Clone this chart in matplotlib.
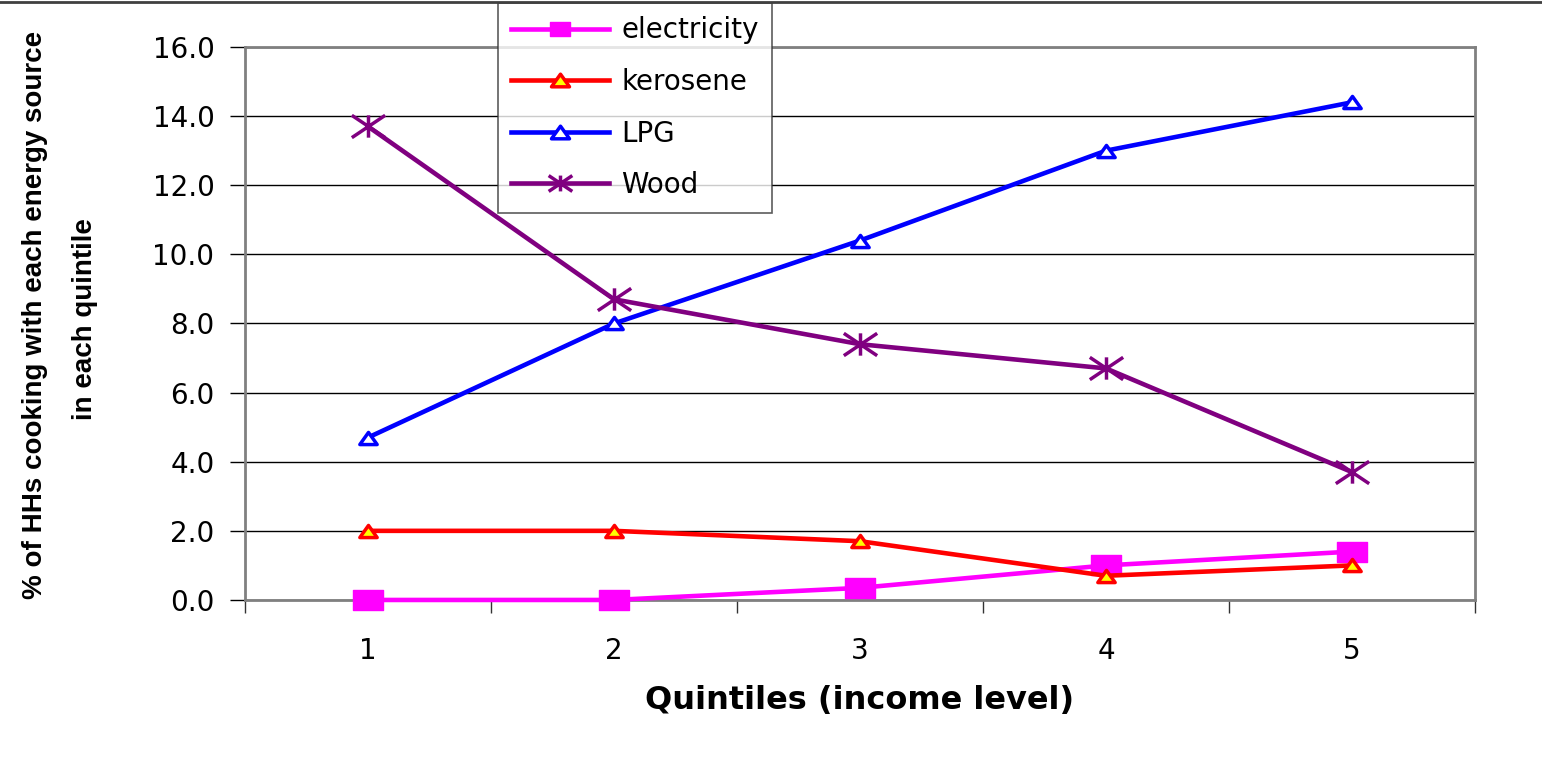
import matplotlib.pyplot as plt
from matplotlib.lines import Line2D
from matplotlib.path import Path
import numpy as np

plt.rcParams['font.family'] = ['DejaVu Sans']

quintiles = [1, 2, 3, 4, 5]
electricity = [0.0, 0.0, 0.35, 1.0, 1.4]
kerosene = [2.0, 2.0, 1.7, 0.7, 1.0]
lpg = [4.7, 8.0, 10.4, 13.0, 14.4]
wood = [13.7, 8.7, 7.4, 6.7, 3.7]
yticks = np.arange(0, 16.1, 2.0)

# wide markers: flat square, flat triangle and an asterisk
square = Path([(-0.75, -0.5), (0.75, -0.5), (0.75, 0.5), (-0.75, 0.5), (-0.75, -0.5)],
              [Path.MOVETO, Path.LINETO, Path.LINETO, Path.LINETO, Path.CLOSEPOLY])
triangle = Path([(0, 0.7), (-1, -0.7), (1, -0.7), (0, 0.7)],
                [Path.MOVETO, Path.LINETO, Path.LINETO, Path.CLOSEPOLY])
asterisk = Path([(0, -0.67), (0, 0.67), (-1, -0.67), (1, 0.67), (-1, 0.67), (1, -0.67)],
                [Path.MOVETO, Path.LINETO] * 3)

fig = plt.figure(figsize=(15.42, 7.68), dpi=100)
ax = fig.add_axes([0.1589, 0.2188, 0.7976, 0.7200])

ax.plot(quintiles, electricity, color="#FF00FF", lw=3.3, marker=square, ms=21,
        mfc="#FF00FF", mec="#FF00FF", mew=1, label="electricity", zorder=3, clip_on=False)
ax.plot(quintiles, kerosene, color="#FF0000", lw=3.3, marker=triangle, ms=12.5,
        mfc="#FFFF00", mec="#FF0000", mew=2.5, label="kerosene", zorder=4, clip_on=False)
ax.plot(quintiles, lpg, color="#0000FF", lw=3.3, marker=triangle, ms=12.5,
        mfc="white", mec="#0000FF", mew=2.5, label="LPG", zorder=3, clip_on=False)
ax.plot(quintiles, wood, color="#800080", lw=3.3, marker=asterisk, ms=24,
        mfc="none", mec="#800080", mew=2.5, label="Wood", zorder=3, clip_on=False)

ax.set_xlim(0.5, 5.5)
ax.set_ylim(0, 16)
ax.set_yticks(yticks)
ax.set_yticklabels(["{:.1f}".format(v) for v in yticks], fontsize=20)
ax.set_xticks(quintiles)
ax.set_xticklabels([str(q) for q in quintiles], fontsize=20)
ax.set_xticks(np.arange(0.5, 5.6, 1), minor=True)
ax.tick_params(axis="x", which="major", length=0, pad=27)
ax.tick_params(axis="x", which="minor", length=9, width=1, color="#333333")
ax.tick_params(axis="y", length=11, width=1, pad=11, color="black")
ax.grid(axis="y", color="black", lw=1)
ax.set_axisbelow(True)
for side in ["left", "top", "right", "bottom"]:
    ax.spines[side].set_color("#808080")
    ax.spines[side].set_linewidth(2)

ax.set_xlabel("Quintiles (income level)", fontsize=23, fontweight="bold", labelpad=14)
narrow = ["Liberation Sans Narrow", "Liberation Sans"]
fig.text(0.0227, 0.59, "% of HHs cooking with each energy source", rotation=90,
         fontsize=20, fontweight="bold", ha="center", va="center", family=narrow)
fig.text(0.055, 0.585, "in each quintile", rotation=90,
         fontsize=20, fontweight="bold", ha="center", va="center", family=narrow)

leg = ax.legend(loc="upper left", bbox_to_anchor=(0.2057, 1.0 + 44 / 553), fontsize=20,
                frameon=True, fancybox=False, edgecolor="#333333", handlelength=3.5,
                labelspacing=0.85, borderpad=0.48, handletextpad=0.45, borderaxespad=0)
leg.get_frame().set_linewidth(1.2)
leg.set_zorder(10)
for h, size in zip(leg.legend_handles, [15, 13, 13, 17]):
    h.set_markersize(size)

# thin rule across the top of the figure
fig.add_artist(Line2D([0, 1], [0.997, 0.997], transform=fig.transFigure,
                      color="#404040", lw=2))

fig.savefig("out.png", dpi=100, facecolor="white")
